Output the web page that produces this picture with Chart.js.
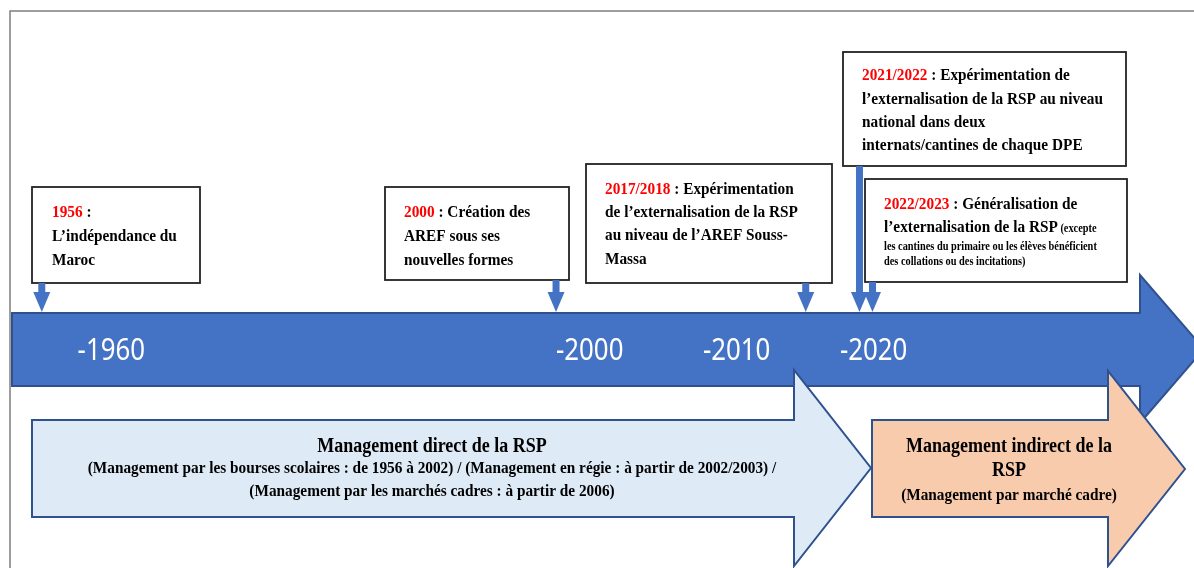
<!DOCTYPE html>
<html>
<head>
<meta charset="utf-8">
<script src="https://cdn.jsdelivr.net/npm/chart.js@4.4.1/dist/chart.umd.min.js"></script>
<style>
  html, body { margin: 0; padding: 0; background: #fff; }
  #wrap { width: 1194px; height: 568px; position: relative; }
</style>
</head>
<body>
<div id="wrap"><canvas id="timeline"></canvas></div>
<script>
// Tick labels printed on the big timeline arrow
const tickYears = [1960, 2000, 2010, 2020];
const tickLabels = ["-1960", "-2000", "-2010", "-2020"];

// Events pointing at the timeline (school years are put in the middle)
const eventYears = [1956, 2000, 2017.5, 2021.5, 2022.5];
const eventLabels = ["1956", "2000", "2017/2018", "2021/2022", "2022/2023"];
const eventTexts = [
    [" :", "L’indépendance du", "Maroc"],
    [" : Création des", "AREF sous ses", "nouvelles formes"],
    [" : Expérimentation", "de l’externalisation de la RSP", "au niveau de l’AREF Souss-", "Massa"],
    [" : Expérimentation de", "l’externalisation de la RSP au niveau", "national dans deux", "internats/cantines de chaque DPE"],
    [" : Généralisation de", "l’externalisation de la RSP"],
];
const eventNotes = [[], [], [], [], ["(excepte", "les cantines du primaire ou les élèves bénéficient", "des collations ou des incitations)"]];

// Management periods (bottom arrows)
const periodTitles = [["Management direct de la RSP"], ["Management indirect de la", "RSP"]];
const periodNotes = [
    ["(Management par les bourses scolaires : de 1956 à 2002) / (Management en régie : à partir de 2002/2003) /",
     "(Management par les marchés cadres : à partir de 2006)"],
    ["(Management par marché cadre)"],
];

// The drawing's year axis is not evenly spaced: piecewise linear scale
const axisYears = [1952, 1960, 2000, 2010, 2020, 2047];
const axisStops = [0.005, 0.065, 0.4657, 0.5888, 0.7035, 0.9975];

function yearToDecimal(v) {
    for (let i = 0; i < axisYears.length - 1; i++) {
        if (v <= axisYears[i + 1] || i === axisYears.length - 2) {
            const t = (v - axisYears[i]) / (axisYears[i + 1] - axisYears[i]);
            return axisStops[i] + t * (axisStops[i + 1] - axisStops[i]);
        }
    }
}
function decimalToYear(d) {
    for (let i = 0; i < axisStops.length - 1; i++) {
        if (d <= axisStops[i + 1] || i === axisStops.length - 2) {
            const t = (d - axisStops[i]) / (axisStops[i + 1] - axisStops[i]);
            return axisYears[i] + t * (axisYears[i + 1] - axisYears[i]);
        }
    }
}

class TimelineScale extends Chart.LinearScale {
    getPixelForValue(value) {
        return this.getPixelForDecimal(yearToDecimal(value));
    }
    getValueForPixel(pixel) {
        return decimalToYear(this.getDecimalForPixel(pixel));
    }
}
TimelineScale.id = "timeline";
TimelineScale.defaults = Chart.LinearScale.defaults;
Chart.register(TimelineScale);

// layout of the drawing
const BLUE = "#4472C4";
const EDGE = "#2F528F";
const SERIF = '"Liberation Serif", "Times New Roman", serif';
const SX = 0.9; // text in the source is a bit condensed
const TIP_Y = 312;

const boxes = [
    { x: 32, y: 187, w: 168, h: 96, tx: 52, base: [217, 241, 265] },
    { x: 385, y: 187, w: 184, h: 93, tx: 404, base: [217, 241, 265] },
    { x: 586, y: 164, w: 246, h: 119, tx: 605, base: [194, 217, 240, 264] },
    { x: 843, y: 52, w: 283, h: 114, tx: 862, base: [80, 104, 127, 150] },
    { x: 865, y: 179, w: 262, h: 103, tx: 884, base: [209, 232, 250, 265] },
];

function textRuns(ctx, runs, x, y, align) {
    let total = 0;
    runs.forEach(r => {
        ctx.font = "bold " + r.size + "px " + SERIF;
        r.w = ctx.measureText(r.text).width * SX;
        total += r.w;
    });
    let cx = align === "center" ? x - total / 2 : x;
    runs.forEach(r => {
        ctx.save();
        ctx.font = "bold " + r.size + "px " + SERIF;
        ctx.fillStyle = r.color || "#000";
        ctx.textAlign = "left";
        ctx.textBaseline = "alphabetic";
        ctx.translate(cx, y);
        ctx.scale(SX, 1);
        ctx.fillText(r.text, 0, 0);
        ctx.restore();
        cx += r.w;
    });
}

function shape(ctx, pts, fill, stroke) {
    ctx.beginPath();
    pts.forEach((p, i) => (i ? ctx.lineTo(p[0], p[1]) : ctx.moveTo(p[0], p[1])));
    ctx.closePath();
    ctx.fillStyle = fill;
    ctx.fill();
    ctx.lineWidth = 2;
    ctx.strokeStyle = stroke;
    ctx.stroke();
}

const timelinePlugin = {
    id: "timelineDrawing",
    afterDatasetsDraw(chart) {
        const ctx = chart.ctx;
        const xs = chart.scales.x;
        const pts = chart.getDatasetMeta(0).data;

        // frame
        ctx.save();
        ctx.strokeStyle = "#7f7f7f";
        ctx.lineWidth = 1.5;
        ctx.beginPath();
        ctx.moveTo(10, 568);
        ctx.lineTo(10, 11);
        ctx.lineTo(1194, 11);
        ctx.stroke();

        // big timeline arrow
        shape(ctx, [[12, 313], [1140, 313], [1140, 275], [1204, 349], [1140, 423], [1140, 386], [12, 386]], BLUE, EDGE);

        // ticks
        tickYears.forEach((yr, i) => {
            ctx.save();
            ctx.font = '30px "Noto Sans", "Open Sans", sans-serif';
            ctx.fillStyle = "#fff";
            ctx.translate(xs.getPixelForValue(yr), 360);
            ctx.scale(0.86, 1);
            ctx.fillText(tickLabels[i], 0, 0);
            ctx.restore();
        });

        // management periods
        shape(ctx, [[32, 420], [794, 420], [794, 370], [871, 468], [794, 566], [794, 517], [32, 517]], "#DEEBF7", EDGE);
        shape(ctx, [[872, 420], [1108, 420], [1108, 371], [1185, 469], [1108, 566], [1108, 517], [872, 517]], "#F8CBAD", EDGE);

        textRuns(ctx, [{ text: periodTitles[0][0], size: 20 }], 432, 452, "center");
        textRuns(ctx, [{ text: periodNotes[0][0], size: 17 }], 432, 473, "center");
        textRuns(ctx, [{ text: periodNotes[0][1], size: 17 }], 432, 496, "center");
        textRuns(ctx, [{ text: periodTitles[1][0], size: 20 }], 1009, 452, "center");
        textRuns(ctx, [{ text: periodTitles[1][1], size: 20 }], 1009, 476, "center");
        textRuns(ctx, [{ text: periodNotes[1][0], size: 17 }], 1009, 500, "center");

        // event boxes and their arrows
        boxes.forEach((b, i) => {
            ctx.fillStyle = "#fff";
            ctx.fillRect(b.x, b.y, b.w, b.h);
            ctx.strokeStyle = "#222";
            ctx.lineWidth = 1.8;
            ctx.strokeRect(b.x, b.y, b.w, b.h);

            const lines = eventTexts[i];
            const notes = eventNotes[i];
            lines.forEach((ln, j) => {
                const runs = j === 0
                    ? [{ text: eventLabels[i], size: 17, color: "#FF0000" }, { text: ln, size: 17 }]
                    : [{ text: ln, size: 17 }];
                if (j === lines.length - 1 && notes.length) runs.push({ text: " " + notes[0], size: 11.5 });
                textRuns(ctx, runs, b.tx, b.base[j], "left");
            });
            notes.slice(1).forEach((n, k) => {
                textRuns(ctx, [{ text: n, size: 11.5 }], b.tx, b.base[lines.length + k], "left");
            });
        });

        pts.forEach((p, i) => {
            const x = p.x;
            const top = boxes[i].y + boxes[i].h;
            ctx.fillStyle = BLUE;
            ctx.fillRect(x - 3.5, top, 7, TIP_Y - 19 - top);
            ctx.beginPath();
            ctx.moveTo(x - 8.5, TIP_Y - 20);
            ctx.lineTo(x + 8.5, TIP_Y - 20);
            ctx.lineTo(x, TIP_Y);
            ctx.closePath();
            ctx.fill();
        });
        ctx.restore();
    },
};

const ctx = document.getElementById("timeline").getContext("2d");
new Chart(ctx, {
    type: "scatter",
    data: {
        datasets: [{
            label: "Événements",
            data: eventYears.map(yr => ({ x: yr, y: 0 })),
            pointRadius: 0,
            showLine: false,
        }],
    },
    options: {
        responsive: true,
        maintainAspectRatio: false,
        animation: false,
        events: [],
        layout: { padding: 0 },
        plugins: { legend: { display: false }, tooltip: { enabled: false } },
        scales: {
            x: { type: "timeline", min: 1952, max: 2047, display: false },
            y: { min: -1, max: 1, display: false },
        },
    },
    plugins: [timelinePlugin],
});
</script>
</body>
</html>
